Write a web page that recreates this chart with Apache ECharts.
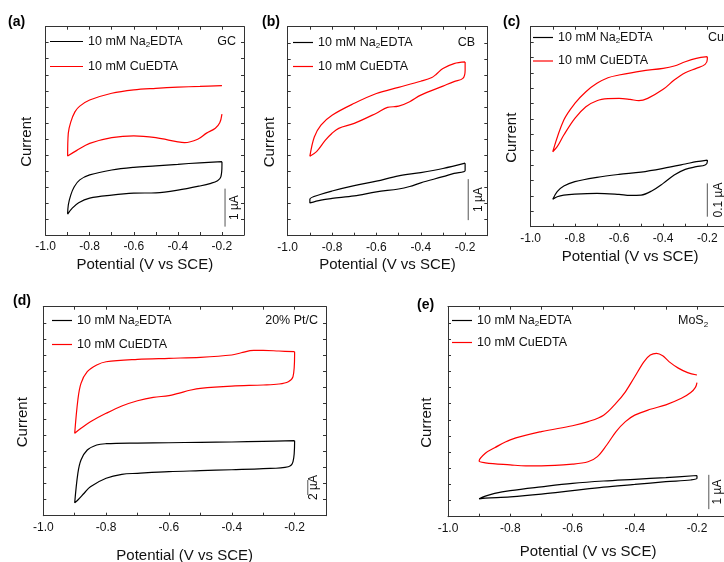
<!DOCTYPE html>
<html>
<head>
<meta charset="utf-8">
<script src="https://cdn.jsdelivr.net/npm/echarts@6/dist/echarts.min.js"></script>
<style>
  html, body { margin: 0; padding: 0; background: #fff; }
  #chart { width: 724px; height: 562px; }
</style>
</head>
<body>
<div id="chart"></div>
<script>
// Cyclic voltammograms, potential in V vs SCE, current in µA.
// Each loop starts at -0.2 V on the upper branch, runs to -0.9 V and back.

// (a) glassy carbon
const gcNaV = [-0.2, -0.3, -0.4, -0.5, -0.6, -0.7, -0.8, -0.845, -0.87, -0.886, -0.897, -0.9, -0.88, -0.85, -0.8, -0.7, -0.6, -0.5, -0.4, -0.3, -0.25, -0.22, -0.205, -0.2, -0.2];
const gcNaI = [1.93, 1.90, 1.86, 1.82, 1.78, 1.71, 1.58, 1.45, 1.27, 1.05, 0.79, 0.55, 0.70, 0.85, 0.97, 1.05, 1.10, 1.11, 1.18, 1.29, 1.36, 1.43, 1.53, 1.84, 1.93];
const gcCuV = [-0.2, -0.3, -0.4, -0.5, -0.6, -0.7, -0.8, -0.845, -0.867, -0.886, -0.897, -0.9, -0.86, -0.8, -0.7, -0.6, -0.5, -0.4, -0.37, -0.31, -0.27, -0.23, -0.21, -0.2];
const gcCuI = [3.93, 3.91, 3.89, 3.86, 3.82, 3.73, 3.55, 3.39, 3.24, 2.97, 2.68, 2.08, 2.22, 2.41, 2.56, 2.61, 2.56, 2.45, 2.43, 2.52, 2.68, 2.81, 2.95, 3.18];

// (b) carbon black
const cbNaV = [-0.2, -0.3, -0.4, -0.5, -0.6, -0.7, -0.8, -0.85, -0.9, -0.9, -0.85, -0.8, -0.7, -0.6, -0.5, -0.45, -0.4, -0.3, -0.25, -0.2, -0.2];
const cbNaI = [1.77, 1.64, 1.54, 1.46, 1.33, 1.22, 1.09, 1.01, 0.89, 0.80, 0.87, 0.91, 0.97, 1.07, 1.14, 1.20, 1.29, 1.44, 1.52, 1.59, 1.77];
const cbCuV = [-0.2, -0.25, -0.3, -0.33, -0.35, -0.4, -0.5, -0.6, -0.7, -0.8, -0.85, -0.88, -0.9, -0.87, -0.83, -0.8, -0.77, -0.7, -0.6, -0.55, -0.5, -0.45, -0.4, -0.3, -0.25, -0.21, -0.2, -0.2];
const cbCuI = [4.24, 4.20, 4.08, 3.94, 3.86, 3.77, 3.62, 3.47, 3.23, 2.94, 2.70, 2.41, 1.94, 2.05, 2.33, 2.50, 2.62, 2.74, 2.99, 3.13, 3.16, 3.27, 3.43, 3.65, 3.76, 3.84, 4.04, 4.24];

// (c) copper
const cuNaV = [-0.2, -0.25, -0.3, -0.4, -0.5, -0.6, -0.7, -0.8, -0.85, -0.88, -0.9, -0.88, -0.85, -0.8, -0.7, -0.6, -0.55, -0.5, -0.45, -0.4, -0.35, -0.3, -0.25, -0.21, -0.2, -0.2];
const cuNaI = [0.200, 0.195, 0.188, 0.175, 0.164, 0.157, 0.148, 0.135, 0.122, 0.105, 0.082, 0.090, 0.095, 0.098, 0.100, 0.097, 0.094, 0.095, 0.108, 0.130, 0.155, 0.172, 0.180, 0.185, 0.195, 0.200];
const cuCuV = [-0.2, -0.25, -0.3, -0.35, -0.4, -0.5, -0.6, -0.65, -0.7, -0.75, -0.8, -0.85, -0.9, -0.88, -0.85, -0.8, -0.75, -0.7, -0.65, -0.6, -0.55, -0.51, -0.47, -0.4, -0.35, -0.3, -0.25, -0.21, -0.2, -0.2];
const cuCuI = [0.510, 0.505, 0.495, 0.482, 0.475, 0.467, 0.455, 0.447, 0.430, 0.405, 0.370, 0.320, 0.225, 0.240, 0.275, 0.325, 0.360, 0.378, 0.384, 0.385, 0.382, 0.378, 0.385, 0.412, 0.440, 0.462, 0.475, 0.487, 0.502, 0.510];

// (d) 20% Pt/C
const ptNaV = [-0.2, -0.3, -0.4, -0.5, -0.6, -0.7, -0.8, -0.83, -0.86, -0.88, -0.89, -0.9, -0.89, -0.87, -0.85, -0.8, -0.75, -0.7, -0.6, -0.5, -0.4, -0.3, -0.22, -0.205, -0.2, -0.2];
const ptNaI = [10.0, 9.92, 9.83, 9.79, 9.73, 9.69, 9.60, 9.43, 8.76, 7.43, 5.65, 1.73, 2.09, 2.99, 3.87, 4.99, 5.52, 5.65, 5.87, 6.00, 6.13, 6.27, 6.53, 7.20, 9.79, 10.0];
const ptCuV = [-0.2, -0.25, -0.3, -0.33, -0.37, -0.4, -0.5, -0.6, -0.7, -0.8, -0.83, -0.86, -0.88, -0.89, -0.9, -0.88, -0.85, -0.8, -0.75, -0.7, -0.65, -0.6, -0.57, -0.53, -0.5, -0.4, -0.3, -0.25, -0.22, -0.205, -0.2, -0.2];
const ptCuI = [21.87, 21.96, 22.05, 22.05, 21.73, 21.43, 21.12, 20.99, 20.85, 20.53, 20.09, 19.20, 17.65, 15.43, 10.99, 11.65, 12.53, 13.65, 14.63, 15.33, 15.79, 16.00, 16.32, 16.76, 16.99, 17.29, 17.43, 17.56, 17.87, 18.53, 21.43, 21.87];

// (e) MoS2
const mosNaV = [-0.2, -0.3, -0.4, -0.5, -0.6, -0.7, -0.8, -0.85, -0.88, -0.9, -0.88, -0.8, -0.7, -0.6, -0.5, -0.4, -0.3, -0.22, -0.2, -0.2];
const mosNaI = [1.20, 1.14, 1.09, 1.04, 0.97, 0.87, 0.76, 0.68, 0.60, 0.52, 0.54, 0.58, 0.66, 0.76, 0.86, 0.94, 1.02, 1.07, 1.12, 1.20];
const mosCuV = [-0.2, -0.23, -0.26, -0.29, -0.31, -0.33, -0.35, -0.37, -0.4, -0.43, -0.46, -0.5, -0.55, -0.6, -0.7, -0.8, -0.85, -0.88, -0.9, -0.88, -0.8, -0.75, -0.7, -0.6, -0.55, -0.52, -0.49, -0.46, -0.43, -0.4, -0.35, -0.3, -0.25, -0.22, -0.205, -0.2];
const mosCuI = [4.13, 4.20, 4.33, 4.52, 4.69, 4.76, 4.71, 4.52, 4.08, 3.64, 3.31, 2.96, 2.77, 2.65, 2.48, 2.24, 2.01, 1.85, 1.62, 1.57, 1.51, 1.48, 1.48, 1.53, 1.60, 1.75, 2.09, 2.48, 2.77, 2.96, 3.13, 3.26, 3.45, 3.62, 3.77, 3.91];

// Current scale bars: potential where each is drawn, start current, length (µA) and caption
const barV = [-0.186, -0.186, -0.2, -0.158, -0.162];
const barI0 = [0.22, 0.38, 0.03, 2.76, 0.22];
const barLen = [1, 1, 0.1, 2, 1];
const barText = ['1 µA', '1 µA', '0.1 µA', '2 µA', '1 µA'];

// Full current span of each panel's y axis (µA)
const yMaxes = [5.48, 5.10, 0.60, 27.87, 6.12];

const electrodes = ['GC', 'CB', 'Cu', '20% Pt/C', 'MoS{s|2}'];
const letters = ['(a)', '(b)', '(c)', '(d)', '(e)'];
const NA = '10 mM Na2EDTA';
const CU = '10 mM CuEDTA';

const FONT = 'Liberation Sans';
const zip = (v, i) => v.map((x, k) => [x, i[k]]);
const curves = [
  [zip(gcNaV, gcNaI), zip(gcCuV, gcCuI)],
  [zip(cbNaV, cbNaI), zip(cbCuV, cbCuI)],
  [zip(cuNaV, cuNaI), zip(cuCuV, cuCuI)],
  [zip(ptNaV, ptNaI), zip(ptCuV, ptCuI)],
  [zip(mosNaV, mosNaI), zip(mosCuV, mosCuI)]
];

// Layout of each panel (the right-hand panels run past the page edge)
const layout = [
  { grid: { left: 45.6, top: 26.7, width: 198.4, height: 208.3 }, xGap: 22, yGap: 11, yShift: 22,
    legend: { left: 50, top: 35, itemWidth: 33, itemGap: 11 }, tag: [236, 42, 'right'], letter: [8, 22], barDx: 10 },
  { grid: { left: 287.7, top: 26.7, width: 199.6, height: 209 }, xGap: 22, yGap: 10, yShift: 22,
    legend: { left: 293, top: 36, itemWidth: 20, itemGap: 10 }, tag: [475, 43, 'right'], letter: [262, 22], barDx: 10 },
  { grid: { left: 530.7, top: 26.7, width: 198.7, height: 200 }, xGap: 23, yGap: 11, yShift: 22,
    legend: { left: 533, top: 31, itemWidth: 20, itemGap: 9.5 }, tag: [708, 38, 'left'], letter: [503, 22], barDx: 11 },
  { grid: { left: 43.3, top: 306.7, width: 282.7, height: 209 }, xGap: 33, yGap: 13, yShift: 22,
    legend: { left: 52, top: 314, itemWidth: 20, itemGap: 10 }, tag: [318, 321, 'right'], letter: [13, 301], barDx: 6 },
  { grid: { left: 448, top: 306.7, width: 280.1, height: 210 }, xGap: 28, yGap: 13.5, yShift: 22,
    legend: { left: 452, top: 314, itemWidth: 20, itemGap: 8 }, tag: [678, 321, 'left'], letter: [417, 305], barDx: 9 }
];

const AXIS_COLOR = '#333';
const tickFmt = v => {
  const k = Math.round(v * 10);
  return k % 2 === 0 ? (k / 10).toFixed(1) : '';
};

const grids = [], xAxes = [], yAxes = [], series = [], legends = [];
layout.forEach((p, i) => {
  grids.push(Object.assign({ containLabel: false, outerBoundsMode: 'none' }, p.grid));
  const common = {
    gridIndex: i, type: 'value', min: -1.0, max: -0.1, interval: 0.1,
    axisLine: { show: true, onZero: false, lineStyle: { color: AXIS_COLOR, width: 1 } },
    axisTick: { show: true, inside: true, length: 3, lineStyle: { color: AXIS_COLOR } },
    splitLine: { show: false }
  };
  xAxes.push(Object.assign({}, common, {
    position: 'bottom',
    axisLabel: { formatter: tickFmt, fontFamily: FONT, fontSize: 12, color: '#111', margin: 6 },
    name: 'Potential (V vs SCE)', nameLocation: 'middle', nameGap: p.xGap,
    nameTextStyle: { fontFamily: FONT, fontSize: 15, color: '#111' }
  }));
  xAxes.push(Object.assign({}, common, { position: 'top', axisLabel: { show: false } }));
  const yc = {
    gridIndex: i, type: 'value', min: 0, max: yMaxes[i], interval: yMaxes[i] / 13,
    axisLine: { show: true, onZero: false, lineStyle: { color: AXIS_COLOR, width: 1 } },
    axisTick: { show: true, inside: true, length: 3, lineStyle: { color: AXIS_COLOR } },
    axisLabel: { show: false },
    splitLine: { show: false }
  };
  yAxes.push(Object.assign({}, yc, {
    position: 'left', name: 'Current', nameLocation: 'middle', nameGap: p.yGap,
    nameTextStyle: { fontFamily: FONT, fontSize: 15, color: '#111', padding: [0, p.yShift, 0, 0] }
  }));
  yAxes.push(Object.assign({}, yc, { position: 'right' }));

  const lineSeries = (name, data, color) => ({
    type: 'line', name, data, xAxisIndex: 2 * i, yAxisIndex: 2 * i,
    symbol: 'none', smooth: 0.35, lineStyle: { color, width: 1.2 }, itemStyle: { color },
    animation: false, z: 3
  });
  series.push(lineSeries(NA, curves[i][0], '#000'));
  series.push(lineSeries(CU, curves[i][1], '#ff0000'));
  series.push({
    type: 'line', name: 'scale' + i, xAxisIndex: 2 * i, yAxisIndex: 2 * i,
    data: [[barV[i], barI0[i]], [barV[i], barI0[i] + barLen[i]]],
    symbol: 'none', lineStyle: { color: '#555', width: 1 }, animation: false, silent: true
  });

  // thin bar as the legend key, same width as the item box
  const w = p.legend.itemWidth;
  legends.push({
    orient: 'vertical', left: p.legend.left, top: p.legend.top, padding: 0,
    itemWidth: w, itemHeight: 14, itemGap: p.legend.itemGap,
    icon: 'path://M0,0H' + w + 'V1.2H0Z',
    data: [NA, CU], selectedMode: false,
    formatter: n => n.replace('Na2', 'Na{s|2}'),
    textStyle: {
      fontFamily: FONT, fontSize: 12.5, color: '#111',
      rich: { s: { fontFamily: FONT, fontSize: 8, color: '#111', padding: [7, 0, 0, 0] } }
    }
  });
});

const chart = echarts.init(document.getElementById('chart'), null, { renderer: 'canvas' });
chart.setOption({
  backgroundColor: '#fff',
  animation: false,
  grid: grids, xAxis: xAxes, yAxis: yAxes, series, legend: legends
});

// Panel letters, electrode names and scale-bar captions
const graphics = [];
layout.forEach((p, i) => {
  graphics.push({
    type: 'text', x: p.letter[0], y: p.letter[1],
    style: { text: letters[i], font: 'bold 14px ' + FONT, fill: '#000', textAlign: 'left', textVerticalAlign: 'middle', align: 'left', verticalAlign: 'middle' }
  });
  graphics.push({
    type: 'text', x: p.tag[0], y: p.tag[1],
    style: {
      text: electrodes[i], font: '12.5px ' + FONT, fill: '#111',
      textAlign: p.tag[2], textVerticalAlign: 'middle', align: p.tag[2], verticalAlign: 'middle',
      rich: { s: { font: '8px ' + FONT, fill: '#111', padding: [7, 0, 0, 0] } }
    }
  });
  const mid = chart.convertToPixel({ xAxisIndex: 2 * i, yAxisIndex: 2 * i }, [barV[i], barI0[i] + barLen[i] / 2]);
  graphics.push({
    type: 'text', x: mid[0] + p.barDx, y: mid[1], rotation: Math.PI / 2,
    style: { text: barText[i], font: '12px ' + FONT, fill: '#111', textAlign: 'center', textVerticalAlign: 'middle', align: 'center', verticalAlign: 'middle' }
  });
});
chart.setOption({ graphic: graphics });
</script>
</body>
</html>
